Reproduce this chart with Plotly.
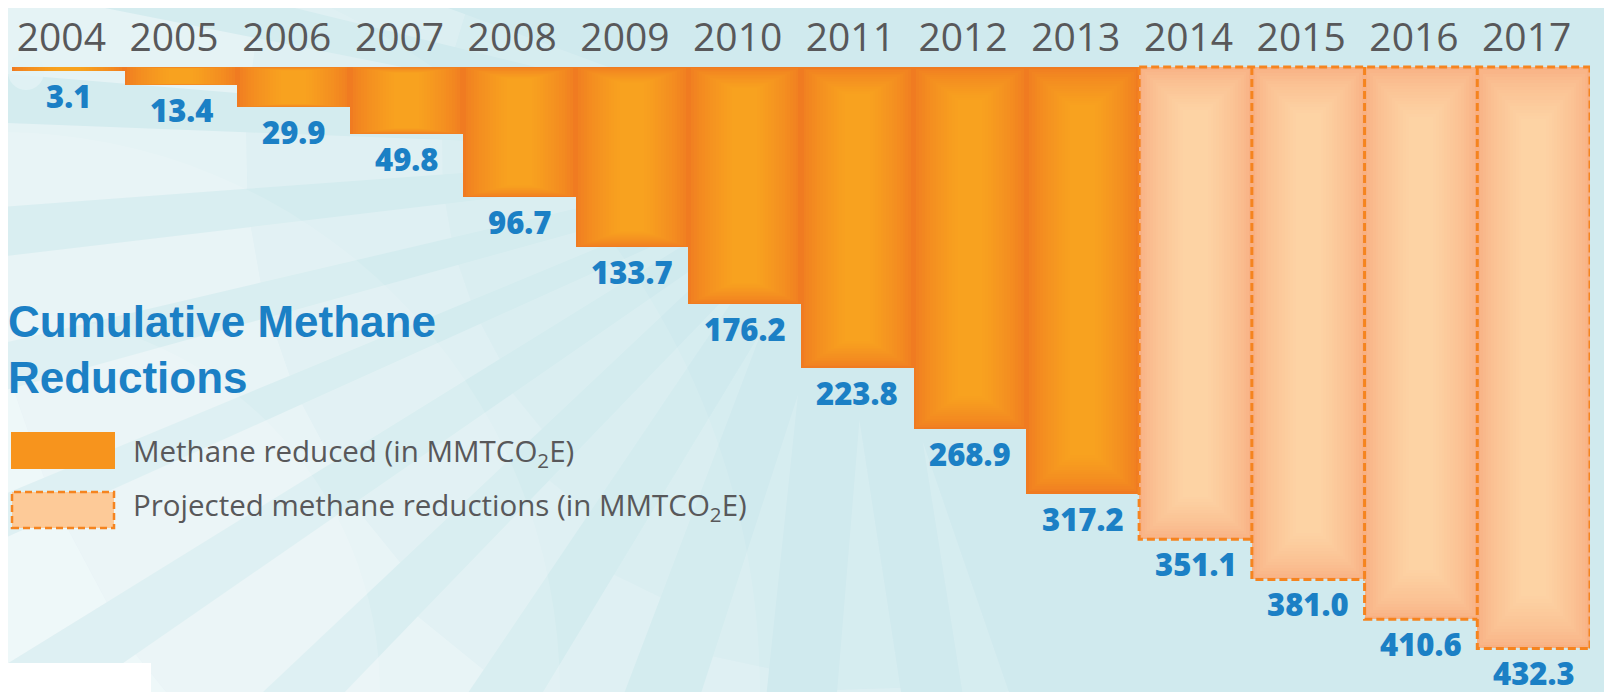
import plotly.graph_objects as go
import math

# ---------------- data ----------------
years = ['2004', '2005', '2006', '2007', '2008', '2009', '2010',
         '2011', '2012', '2013', '2014', '2015', '2016', '2017']
reduced = [3.1, 13.4, 29.9, 49.8, 96.7, 133.7, 176.2, 223.8, 268.9, 317.2]
projected = [351.1, 381.0, 410.6, 432.3]
value_labels = ['3.1', '13.4', '29.9', '49.8', '96.7', '133.7', '176.2',
                '223.8', '268.9', '317.2', '351.1', '381.0', '410.6', '432.3']
title_lines = ['Cumulative Methane', 'Reductions']
legend_labels = ['Methane reduced (in MMTCO<sub>2</sub>E)',
                 'Projected methane reductions (in MMTCO<sub>2</sub>E)']

# ---------------- layout geometry (page pixels; page body has an 8px margin) ----------------
OFF = 8
PAGE_W, PAGE_H = 1612, 692
W, H = PAGE_W - OFF, PAGE_H - OFF
ML, MR, MT, MB = 12 - OFF, 22, 62 - OFF, 0
PW, PH = W - ML - MR, H - MT - MB
Y_TOP, Y_BOT = -3.72, 464.68

def px(X):  # page x -> paper
    return (X - OFF - ML) / PW

def py(Y):  # page y -> paper
    return (H - MB - (Y - OFF)) / PH

BG = '#d0eaee'
ORANGE_EDGE, ORANGE_CENTER = '#f07b21', '#f8a21f'
PEACH_EDGE, PEACH_CENTER = '#f8b083', '#fdd3a4'
DASH_COLOR = '#f5841f'
BLUE = '#1b80c5'
GRAY = '#58585a'

def hex2rgb(h):
    h = h.lstrip('#')
    return [int(h[i:i + 2], 16) for i in (0, 2, 4)]

def mix(a, b, t):
    ca, cb = hex2rgb(a), hex2rgb(b)
    c = [round(ca[i] + (cb[i] - ca[i]) * t) for i in range(3)]
    return 'rgb(%d,%d,%d)' % tuple(c)

fig = go.Figure()

# ---------------- bars with soft glow ----------------
def add_glow_bars(xs, vals, edge, center, n=16):
    for k in range(n + 1):
        t = k / n
        width = 1.0 - 0.78 * t
        inset = 0.09 * t
        fig.add_trace(go.Bar(
            x=xs,
            y=[v * (1 - 2 * inset) for v in vals],
            base=[v * inset for v in vals],
            width=width,
            marker=dict(color=mix(edge, center, t ** 0.7), line=dict(width=0)),
            hoverinfo='skip', showlegend=False))

x_red = list(range(len(reduced)))
x_proj = list(range(len(reduced), len(reduced) + len(projected)))
add_glow_bars(x_red, reduced, ORANGE_EDGE, ORANGE_CENTER)
add_glow_bars(x_proj, projected, PEACH_EDGE, PEACH_CENTER)

# dashed outline of projected bars
dx, dy = [], []
for i, v in zip(x_proj, projected):
    dx += [i - 0.5, i - 0.5, i + 0.5, None]
    dy += [0, v, v, None]
dx += [x_proj[-1] + 0.5, x_proj[-1] + 0.5, None, x_proj[0] - 0.5, x_proj[-1] + 0.5]
dy += [projected[-1], 0, None, 0, 0]
fig.add_trace(go.Scatter(x=dx, y=dy, mode='lines',
                         line=dict(color=DASH_COLOR, width=3, dash='8px,4px'),
                         hoverinfo='skip', showlegend=False))

# value labels
all_vals = reduced + projected
annotations = []
for i, (v, lab) in enumerate(zip(all_vals, value_labels)):
    annotations.append(dict(x=i, y=v, xref='x', yref='y', text=lab, showarrow=False,
                            yanchor='middle', xanchor='center', yshift=-25,
                            font=dict(family='Open Sans', size=31, color=BLUE, weight=800)))

# title
for line, yc in zip(title_lines, [321, 377]):
    annotations.append(dict(x=px(6), y=py(yc), xref='paper', yref='paper', text=line,
                            showarrow=False, xanchor='left', yanchor='middle',
                            font=dict(family='Liberation Sans', size=44, color=BLUE, weight=700)))

# legend text
for lab, yc in zip(legend_labels, [452, 506]):
    annotations.append(dict(x=px(131), y=py(yc), xref='paper', yref='paper', text=lab,
                            showarrow=False, xanchor='left', yanchor='middle',
                            font=dict(family='Open Sans', size=29.5, color=GRAY)))

# ---------------- background sunburst ----------------
shapes = []
CX, CY = 850, 150
R_OUT = 1500
rays = [  # (angle deg, half width deg, inner radius px)
    (76, 4.0, 300), (88, 5.5, 270), (102, 5.0, 250), (116, 4.5, 200),
    (129, 4.5, 150), (141, 4.0, 110), (152, 3.5, 100), (161, 3.3, 100),
    (170, 3.0, 100), (179, 3.0, 100), (188, 3.0, 100), (197, 3.0, 100),
]
seg_r = [0.0, 0.22, 0.36, 0.55, 1.0]
seg_op = [0.14, 0.25, 0.38, 0.5]

def pol(r, a):
    return CX + r * math.cos(math.radians(a)), CY + r * math.sin(math.radians(a))

for ang, hw, rin in rays:
    ax_, ay_ = pol(rin, ang)
    lx, ly = pol(R_OUT, ang - hw)
    rx, ry = pol(R_OUT, ang + hw)
    for s in range(len(seg_op)):
        ta, tb = seg_r[s], seg_r[s + 1]
        pts = [
            (ax_ + (lx - ax_) * ta, ay_ + (ly - ay_) * ta),
            (ax_ + (lx - ax_) * tb, ay_ + (ly - ay_) * tb),
            (ax_ + (rx - ax_) * tb, ay_ + (ry - ay_) * tb),
            (ax_ + (rx - ax_) * ta, ay_ + (ry - ay_) * ta),
        ]
        path = 'M ' + ' L '.join('%.5f,%.5f' % (px(X), py(Y)) for X, Y in pts) + ' Z'
        shapes.append(dict(type='path', path=path, xref='paper', yref='paper',
                           fillcolor='white', opacity=seg_op[s], line=dict(width=0),
                           layer='below'))

# soft light glow toward lower-left
for r, op in [(760, 0.10), (560, 0.12), (380, 0.14)]:
    shapes.append(dict(type='circle', xref='paper', yref='paper',
                       x0=px(-r), x1=px(r), y0=py(PAGE_H + r), y1=py(PAGE_H - r),
                       fillcolor='white', opacity=op, line=dict(width=0), layer='below'))
# small light blob near top-left
shapes.append(dict(type='circle', xref='paper', yref='paper',
                   x0=px(8), x1=px(44), y0=py(90), y1=py(54),
                   fillcolor='#e2f2f5', opacity=0.8, line=dict(width=0), layer='below'))

# legend swatches
shapes.append(dict(type='rect', xref='paper', yref='paper',
                   x0=px(11), x1=px(115), y0=py(469), y1=py(432),
                   fillcolor='#f7941d', line=dict(width=0), layer='above'))
shapes.append(dict(type='rect', xref='paper', yref='paper',
                   x0=px(12), x1=px(114), y0=py(528), y1=py(492),
                   fillcolor='#fdca98', line=dict(width=2.5, color=DASH_COLOR, dash='7px,4px'),
                   layer='above'))

# white patch at bottom-left (scan artefact)
shapes.append(dict(type='rect', xref='paper', yref='paper',
                   x0=px(0), x1=px(151), y0=py(PAGE_H + 2), y1=py(663),
                   fillcolor='white', line=dict(width=0), layer='above'))

fig.update_layout(
    width=W, height=H,
    margin=dict(l=ML, r=MR, t=MT, b=MB, pad=0),
    paper_bgcolor=BG, plot_bgcolor=BG,
    barmode='overlay', bargap=0,
    showlegend=False,
    shapes=shapes,
    annotations=annotations,
    xaxis=dict(range=[-0.5, len(years) - 0.5], side='top',
               tickmode='array', tickvals=list(range(len(years))), ticktext=years,
               tickfont=dict(family='Open Sans', size=39, color=GRAY),
               ticks='', showgrid=False, zeroline=False, showline=False,
               ticklabelshift=-7, ticklabelstandoff=2, fixedrange=True),
    yaxis=dict(range=[Y_BOT, Y_TOP], visible=False, showgrid=False, zeroline=False,
               fixedrange=True),
)

fig.write_html('out.html', config={'displayModeBar': False})
